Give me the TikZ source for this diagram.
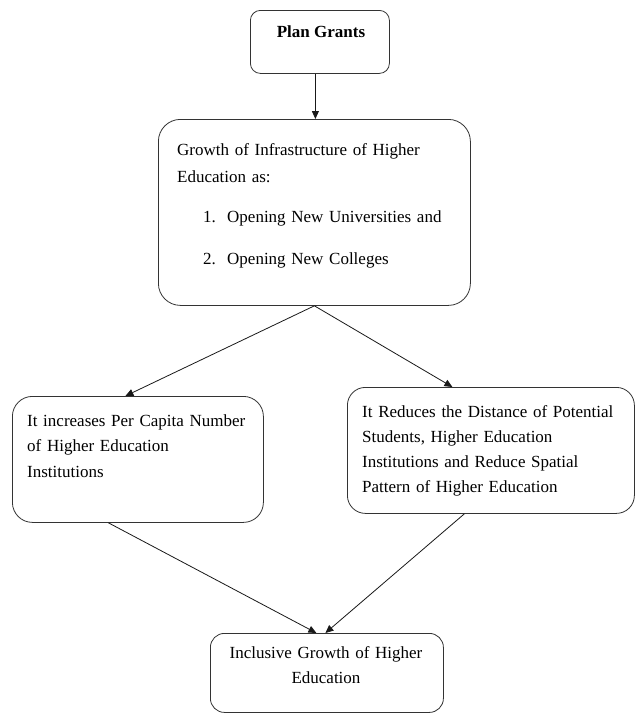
\documentclass[tikz,border=0pt]{standalone}
\usepackage{fontspec}
\setmainfont{Liberation Serif}
\usetikzlibrary{arrows.meta}
\begin{document}
\begin{tikzpicture}[x=1pt,y=-1pt,
  box/.style={draw=black!80, line width=0.8pt, anchor=north west, inner sep=0pt, fill=white},
  txt/.style={inner sep=0pt, font=\fontsize{17}{25.5}\selectfont},
  arr/.style={draw=black!90, line width=0.8pt, -{Triangle[length=8pt,width=7pt]}}]
\useasboundingbox[fill=white] (0,0) rectangle (636,713);
% boxes
\node[box, rounded corners=10pt, minimum width=139pt, minimum height=63pt] (plan) at (250,10) {};
\node[box, rounded corners=22pt, minimum width=312pt, minimum height=186pt] (growth) at (158,119) {};
\node[box, rounded corners=20pt, minimum width=251pt, minimum height=126pt] (left) at (12,396) {};
\node[box, rounded corners=18pt, minimum width=287pt, minimum height=126pt] (right) at (347,387) {};
\node[box, rounded corners=14pt, minimum width=233pt, minimum height=79pt] (bottom) at (210,633) {};
% texts
\node[txt, anchor=north, font=\fontsize{17}{25.5}\selectfont\bfseries] (plantext) at (321,19.15) {\strut Plan Grants};
\node[txt, anchor=north west, text width=292pt, align=left] (growthtext) at (177,137.15)
  {\strut Growth of Infrastructure of Higher\\[1.5pt]
   Education as:\\[14.5pt]
   \hspace*{26pt}\makebox[24pt][l]{1.}Opening New Universities and\\[16.5pt]
   \hspace*{26pt}\makebox[24pt][l]{2.}Opening New Colleges};
\node[txt, anchor=north west, text width=240pt, align=left] (lefttext) at (27,408.15)
  {\strut It increases Per Capita Number\\of Higher Education\\Institutions};
\node[txt, anchor=north west, text width=270pt, align=left, font=\fontsize{17}{25}\selectfont] (righttext) at (362,399.5)
  {\strut It Reduces the Distance of Potential\\Students, Higher Education\\Institutions and Reduce Spatial\\Pattern of Higher Education};
\node[txt, anchor=north, text width=233pt, align=center, font=\fontsize{17}{25}\selectfont] (bottomtext) at (326,641)
  {\strut Inclusive Growth of Higher\\Education};
% connectors
\draw[arr] ([xshift=-4.5pt]plan.south) -- ([xshift=1pt]growth.north);
\draw[arr] (growth.south) -- ([xshift=-12.5pt]left.north);
\draw[arr] (growth.south) -- ([xshift=-38.5pt]right.north);
\draw[arr] ([xshift=-29.5pt]left.south) -- ([xshift=-10.5pt]bottom.north);
\draw[arr] ([xshift=-26.5pt]right.south) -- ([xshift=-1.5pt]bottom.north);
\end{tikzpicture}
\end{document}
